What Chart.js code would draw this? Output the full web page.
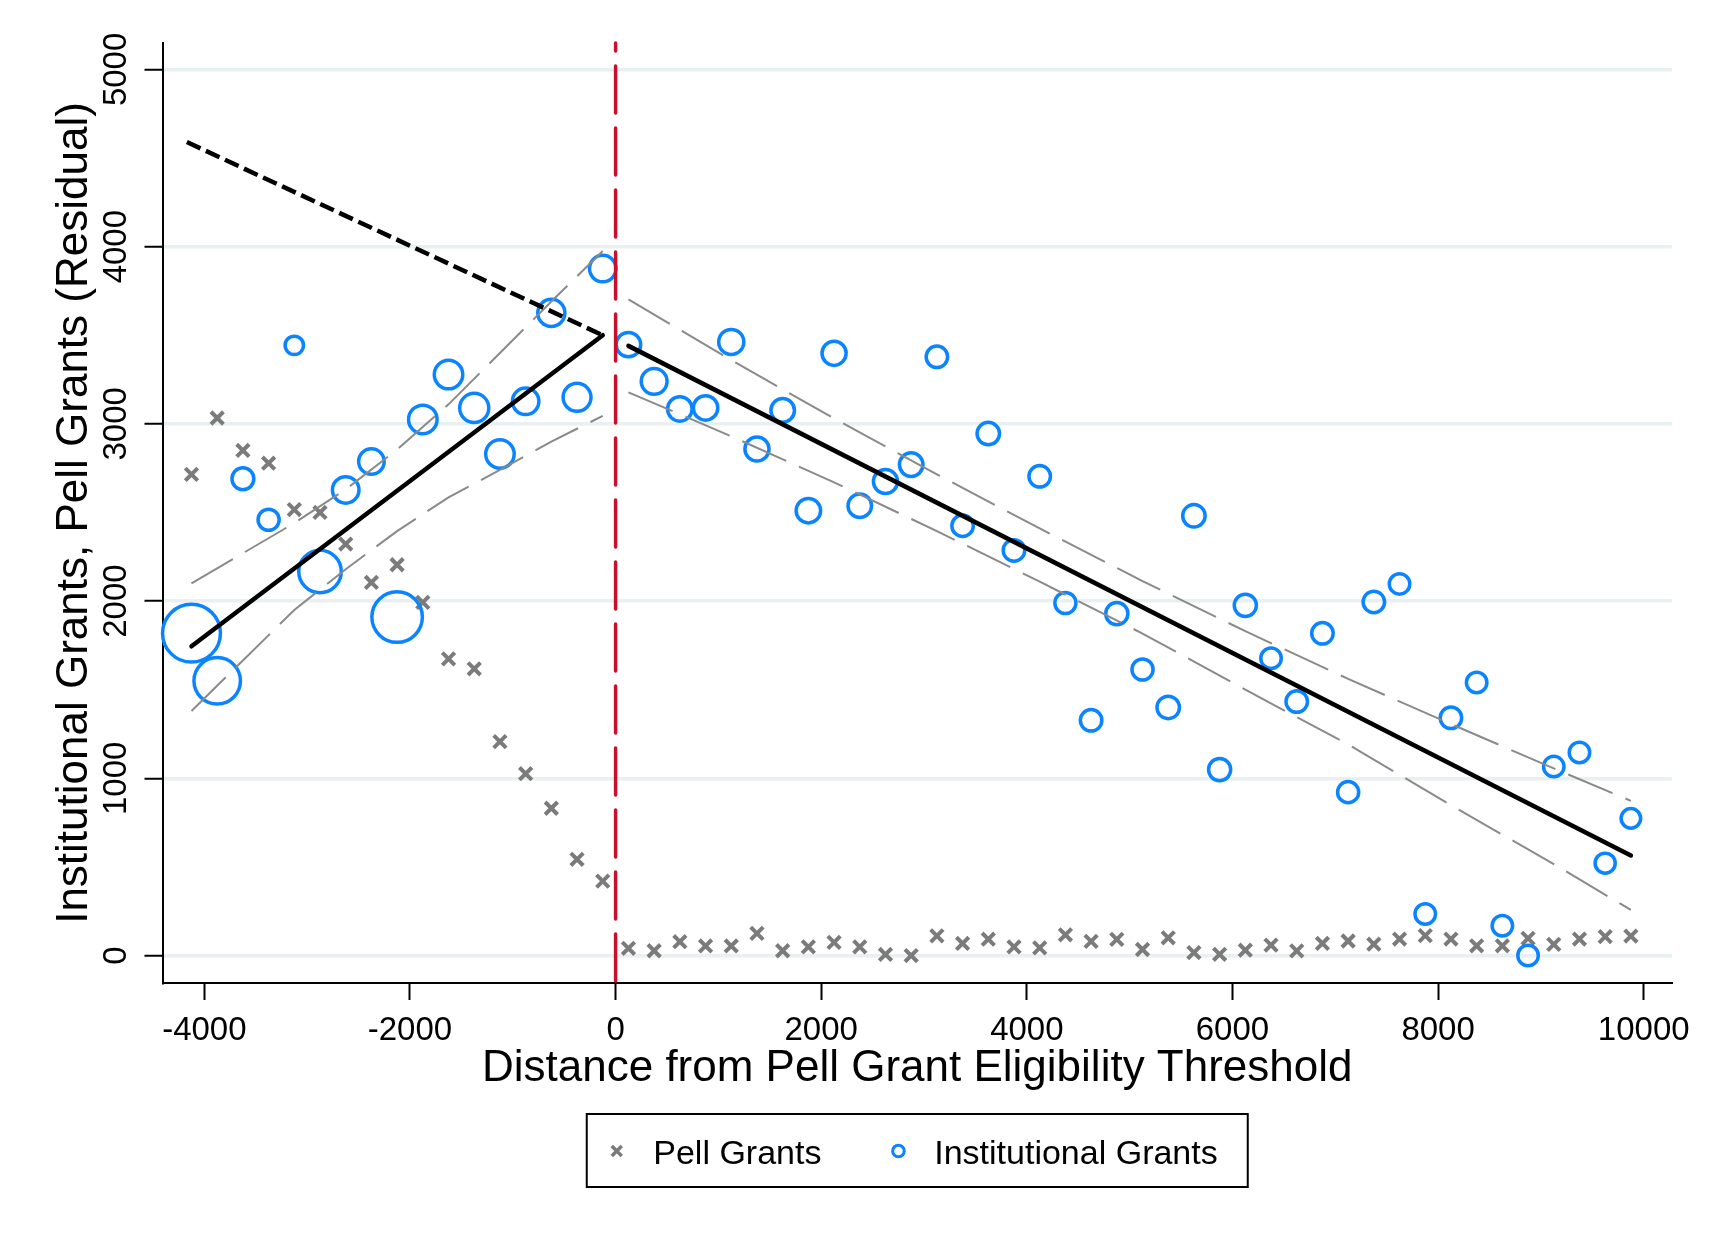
<!DOCTYPE html>
<html>
<head>
<meta charset="utf-8">
<title>Institutional vs Pell grants around the eligibility threshold</title>
<script src="https://cdn.jsdelivr.net/npm/chart.js@4.4.0/dist/chart.umd.min.js"></script>
<style>
  html, body { margin: 0; padding: 0; background: #fff; }
  #wrap { width: 1710px; height: 1239px; position: relative; }
</style>
</head>
<body>
<div id="wrap"><canvas id="chart" width="1710" height="1239"></canvas></div>
<script>
// =========================
// DATA
// =========================
const binX = [-4125, -3875, -3625, -3375, -3125, -2875, -2625, -2375, -2125, -1875, -1625, -1375, -1125, -875, -625, -375, -125,
  125, 375, 625, 875, 1125, 1375, 1625, 1875, 2125, 2375, 2625, 2875, 3125, 3375, 3625, 3875, 4125, 4375, 4625,
  4875, 5125, 5375, 5625, 5875, 6125, 6375, 6625, 6875, 7125, 7375, 7625, 7875, 8125, 8375, 8625, 8875, 9125, 9375, 9625, 9875];

const pellGrants = [2715, 3033, 2850, 2778, 2516, 2500, 2322, 2105, 2205, 1993, 1674, 1618, 1207, 1026, 831, 543, 420,
  41, 27, 78, 54, 54, 125, 27, 49, 74, 49, 6, 0, 111, 68, 92, 49, 43, 117, 80,
  91, 34, 100, 17, 7, 30, 59, 26, 68, 82, 64, 93, 112, 93, 55, 55, 97, 63, 93, 107, 110];

const instGrants = [1819, 1550, 2690, 2459, 3443, 2167, 2627, 2788, 1910, 3025, 3278, 3090, 2830, 3127, 3626, 3150, 3876,
  3447, 3240, 3084, 3090, 3462, 2858, 3076, 2510, 3398, 2538, 2675, 2770, 3378, 2425, 2945, 2286, 2704, 1989, 1327,
  1929, 1614, 1400, 2481, 1049, 1976, 1677, 1433, 1818, 922, 1995, 2097, 234, 1341, 1541, 168, 0, 1066, 1146, 521, 774];

// relative bin weight (marker area)
const instWeight = [6.03, 4.0, 1.03, 0.97, 0.77, 3.39, 1.44, 1.35, 4.67, 1.64, 1.64, 1.70, 1.64, 1.44, 1.50, 1.58, 1.44,
  1.25, 1.38, 1.25, 1.25, 1.31, 1.22, 1.17, 1.25, 1.22, 1.17, 1.22, 1.17, 1.0, 1.0, 1.08, 1.0, 1.0, 0.97, 1.0,
  1.05, 0.97, 1.08, 1.08, 1.05, 1.05, 0.92, 1.0, 1.0, 0.97, 1.0, 0.92, 0.92, 1.0, 0.92, 0.92, 0.92, 0.92, 0.92, 0.89, 0.85];

// fitted lines
const fitLeftX = [-4125, -125];
const fitLeftY = [1745, 3500];
const projLeftX = [-4170, -125];
const projLeftY = [4590, 3500];
const fitRightX = [125, 9875];
const fitRightY = [3440, 565];

// confidence bands
const ciLeftX = [-4125, -3625, -3125, -2625, -2125, -1625, -1125, -625, -125];
const ciLeftHi = [2100, 2270, 2440, 2630, 2855, 3110, 3400, 3690, 3975];
const ciLeftLo = [1380, 1665, 1950, 2180, 2395, 2585, 2740, 2900, 3045];
const ciRightX = [125, 1125, 2125, 3125, 4125, 5125, 6125, 7125, 8125, 9125, 9875];
const ciRightHi = [3702, 3360, 3030, 2715, 2410, 2113, 1830, 1561, 1306, 1056, 873];
const ciRightLo = [3178, 2930, 2670, 2395, 2110, 1817, 1500, 1191, 848, 516, 257];

const cutoff = 0;
const xTicks = [-4000, -2000, 0, 2000, 4000, 6000, 8000, 10000];
const yTicks = [0, 1000, 2000, 3000, 4000, 5000];
const xTitle = 'Distance from Pell Grant Eligibility Threshold';
const yTitle = 'Institutional Grants, Pell Grants (Residual)';
const legendLabels = ['Pell Grants', 'Institutional Grants'];

// =========================
// STYLE
// =========================
const FONT = '"Liberation Sans", Arial, Helvetica, sans-serif';
const PELL_GRAY = '#7b7b7b';
const INST_BLUE = '#0a84ff';
const CUT_RED = '#c8102e';
const BAND_GRAY = '#8a8a8a';
const GRID = '#e9f0f1';

Chart.defaults.font.family = FONT;
Chart.defaults.color = '#000';

function pts(xs, ys) {
  return xs.map((x, i) => ({ x: x, y: ys[i] }));
}

function lineSet(label, xs, ys, extra) {
  return Object.assign({
    label: label,
    data: pts(xs, ys),
    showLine: true,
    pointRadius: 0,
    pointHoverRadius: 0,
    borderColor: '#000',
    borderWidth: 4.5,
    borderCapStyle: 'round',
    fill: false,
    tension: 0,
    clip: false,
    order: 1
  }, extra || {});
}

const bandStyle = { borderColor: BAND_GRAY, borderWidth: 2, borderDash: [48, 14], borderCapStyle: 'butt' };

// =========================
// PLUGINS
// =========================
// vertical dashed line at the eligibility cutoff
const cutoffLine = {
  id: 'cutoffLine',
  afterDatasetsDraw(chart) {
    const { ctx, chartArea } = chart;
    const x = chart.scales.x.getPixelForValue(cutoff);
    ctx.save();
    ctx.strokeStyle = CUT_RED;
    ctx.lineWidth = 3.5;
    ctx.lineCap = 'round';
    ctx.setLineDash([47, 15]);
    ctx.beginPath();
    ctx.moveTo(x, chartArea.bottom - 2);
    ctx.lineTo(x, chartArea.top);
    ctx.stroke();
    ctx.restore();
  }
};

// boxed legend under the axis title
const boxLegend = {
  id: 'boxLegend',
  afterDraw(chart) {
    const { ctx, chartArea } = chart;
    const cx = (chartArea.left + chartArea.right) / 2;
    const w = 661, h = 73;
    const left = cx - w / 2, top = chartArea.bottom + 131;
    const midY = top + 37;

    ctx.save();
    ctx.strokeStyle = '#000';
    ctx.lineWidth = 2;
    ctx.strokeRect(left, top, w, h);

    // pell marker
    const px = cx - 300.5, d = 5;
    ctx.strokeStyle = PELL_GRAY;
    ctx.lineWidth = 3.5;
    ctx.beginPath();
    ctx.moveTo(px - d, midY - d); ctx.lineTo(px + d, midY + d);
    ctx.moveTo(px - d, midY + d); ctx.lineTo(px + d, midY - d);
    ctx.stroke();

    // institutional marker
    ctx.strokeStyle = INST_BLUE;
    ctx.lineWidth = 3;
    ctx.beginPath();
    ctx.arc(cx - 18.8, midY, 5.8, 0, Math.PI * 2);
    ctx.stroke();

    ctx.fillStyle = '#000';
    ctx.font = '34px ' + FONT;
    ctx.textBaseline = 'alphabetic';
    ctx.textAlign = 'left';
    ctx.fillText(legendLabels[0], cx - 264, top + 49.5);
    ctx.fillText(legendLabels[1], cx + 17, top + 49.5);
    ctx.restore();
  }
};

// =========================
// CHART
// =========================
const ctx = document.getElementById('chart').getContext('2d');

new Chart(ctx, {
  type: 'scatter',
  data: {
    datasets: [
      lineSet('Fit (left)', fitLeftX, fitLeftY),
      lineSet('Projection', projLeftX, projLeftY, { borderDash: [15, 6], borderCapStyle: 'butt' }),
      lineSet('Fit (right)', fitRightX, fitRightY),
      lineSet('CI left upper', ciLeftX, ciLeftHi, bandStyle),
      lineSet('CI left lower', ciLeftX, ciLeftLo, bandStyle),
      lineSet('CI right upper', ciRightX, ciRightHi, bandStyle),
      lineSet('CI right lower', ciRightX, ciRightLo, bandStyle),
      {
        label: legendLabels[1],
        data: pts(binX, instGrants),
        pointStyle: 'circle',
        pointRadius: instWeight.map(w => 12.5 * Math.sqrt(w) - 1.75),
        pointHoverRadius: instWeight.map(w => 12.5 * Math.sqrt(w) - 1.75),
        pointBorderWidth: 3.5,
        pointBorderColor: INST_BLUE,
        pointBackgroundColor: 'rgba(0,0,0,0)',
        borderColor: INST_BLUE,
        backgroundColor: 'rgba(0,0,0,0)',
        clip: false,
        order: 2
      },
      {
        label: legendLabels[0],
        data: pts(binX, pellGrants),
        pointStyle: 'crossRot',
        pointRadius: 8.8,
        pointHoverRadius: 8.8,
        pointBorderWidth: 4,
        pointBorderColor: PELL_GRAY,
        borderColor: PELL_GRAY,
        clip: false,
        order: 3
      }
    ]
  },
  options: {
    responsive: false,
    animation: false,
    devicePixelRatio: 1,
    events: [],
    layout: { padding: { left: 0, right: 38, top: 43, bottom: 0 } },
    plugins: {
      legend: { display: false },
      tooltip: { enabled: false }
    },
    scales: {
      x: {
        type: 'linear',
        min: -4407,
        max: 10275,
        afterBuildTicks: s => { s.ticks = xTicks.map(v => ({ value: v })); },
        afterFit: s => { s.height = 256; },
        grid: { display: true, drawOnChartArea: false, drawTicks: true, tickLength: 17, tickColor: '#000', tickWidth: 2 },
        border: { display: true, color: '#000', width: 2 },
        ticks: {
          color: '#000',
          font: { size: 33 },
          padding: 11,
          maxRotation: 0,
          autoSkip: false,
          callback: v => String(v)
        },
        title: {
          display: true,
          text: xTitle,
          color: '#000',
          font: { size: 44 },
          padding: { top: 0, bottom: 144 }
        }
      },
      y: {
        type: 'linear',
        min: -155,
        max: 5149,
        afterBuildTicks: s => { s.ticks = yTicks.map(v => ({ value: v })); },
        afterFit: s => { s.width = 162.5; },
        grid: { color: GRID, lineWidth: 3.5, drawTicks: true, tickLength: 18, tickColor: '#000', tickWidth: 2 },
        border: { display: true, color: '#000', width: 2 },
        ticks: {
          color: '#000',
          font: { size: 33 },
          padding: -9,
          minRotation: 90,
          maxRotation: 90,
          crossAlign: 'center',
          callback: v => String(v)
        },
        title: {
          display: true,
          text: yTitle,
          color: '#000',
          font: { size: 44 },
          padding: { top: 48, bottom: 0 }
        }
      }
    }
  },
  plugins: [cutoffLine, boxLegend]
});
</script>
</body>
</html>
